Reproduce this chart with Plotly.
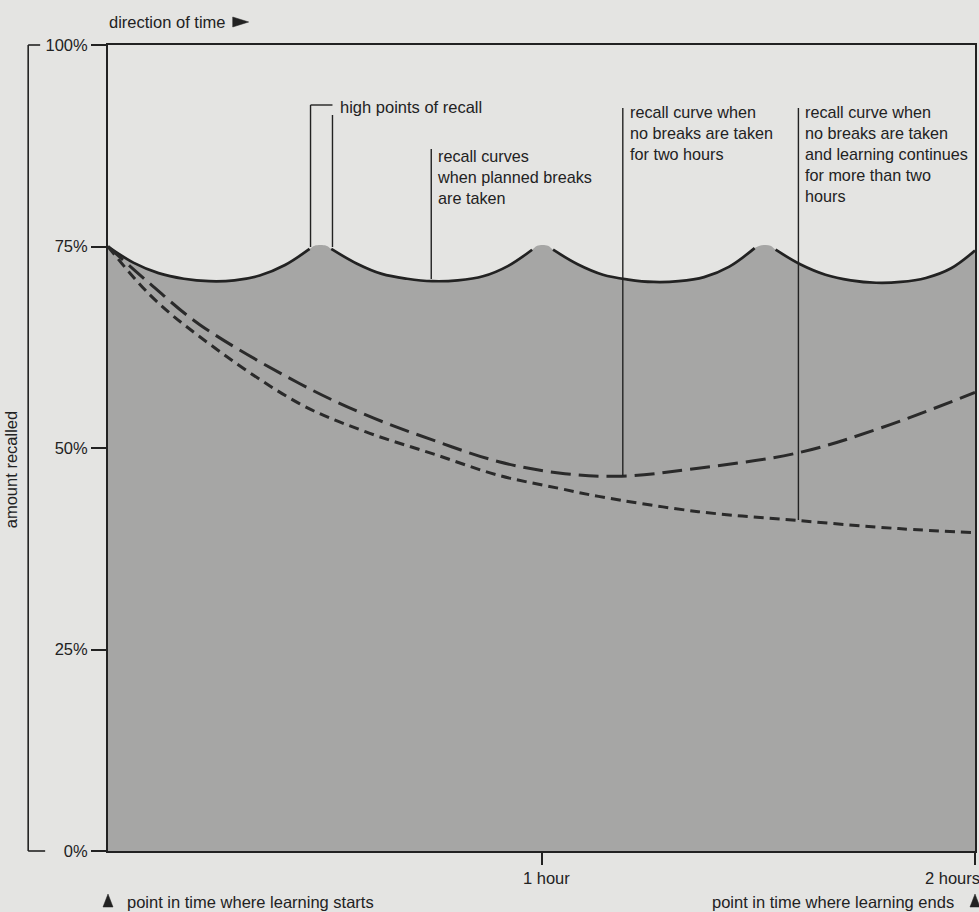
import plotly.graph_objects as go

# ---------------- data (minutes, percent recalled) ----------------
seg1_t = [0, 3.5, 7, 10.5, 14, 17.5, 21, 24.5, 27.9]
seg1_v = [75.0, 73.0, 71.7, 71.0, 70.7, 70.8, 71.4, 72.7, 74.7]
seg2_t = [30.9, 34.4, 37.9, 41.4, 44.9, 48.4, 51.9, 55.4, 58.7]
seg2_v = [74.7, 72.9, 71.6, 71.0, 70.7, 70.8, 71.3, 72.6, 74.6]
seg3_t = [61.6, 65.0, 68.5, 72.0, 75.5, 79.0, 82.5, 86.0, 89.5]
seg3_v = [74.6, 72.8, 71.5, 70.9, 70.6, 70.7, 71.2, 72.5, 74.8]
seg4_t = [92.4, 95.8, 99.3, 102.8, 106.3, 109.7, 113.2, 116.7, 120.0]
seg4_v = [74.6, 72.8, 71.5, 70.8, 70.5, 70.6, 71.1, 72.3, 74.5]

# high points of recall (flat tops during breaks)
peak_t = [[28.6, 30.2], [59.4, 60.9], [90.2, 91.7]]
peak_v = [[75.1, 75.1], [75.1, 75.1], [75.1, 75.1]]

nobreak_t = [0, 5.8, 12.7, 26.5, 35.7, 44.9, 54.1, 62.4, 71.1, 81.7, 95.5, 107.0, 120.0]
nobreak_v = [75.0, 70.4, 65.3, 58.0, 54.1, 51.0, 48.3, 46.9, 46.5, 47.5, 49.4, 52.5, 56.9]

cont_t = [0, 5.8, 12.7, 26.5, 35.7, 44.9, 54.1, 62.4, 67.9, 81.7, 95.5, 109.4, 120.0]
cont_v = [75.0, 69.0, 63.8, 55.5, 52.0, 49.3, 46.6, 45.0, 44.0, 42.1, 41.0, 40.0, 39.5]

y_ticks = [0, 25, 50, 75, 100]
y_labels = ["0%", "25%", "50%", "75%", "100%"]
x_ticks = [60, 120]
x_labels = ["1 hour", "2 hours"]

# ---------------- style ----------------
BG = "#e4e4e2"
FILL = "#a6a6a5"
INK = "#222222"
FONT = "Liberation Sans, Arial, sans-serif"
FS = 16.5
W, H = 979, 912
L, R, T, B = 108, 977, 45, 851


def xp(px):  # pixel -> paper x
    return (px - L) / (R - L)


def yp(py):  # pixel -> paper y
    return (B - py) / (B - T)


def dx(px):  # pixel -> data x (minutes)
    return (px - L) / (R - L) * 120


def dy(py):  # pixel -> data y (%)
    return (B - py) / (B - T) * 100


fig = go.Figure()

# one continuous filled area under the planned-break curve
segs = [(seg1_t, seg1_v), (seg2_t, seg2_v), (seg3_t, seg3_v), (seg4_t, seg4_v)]
area_t, area_v = [], []
for i, (st, sv) in enumerate(segs):
    area_t += st
    area_v += sv
    if i < len(peak_t):
        area_t += peak_t[i]
        area_v += peak_v[i]
fig.add_trace(go.Scatter(x=area_t, y=area_v, mode="lines", fill="tozeroy",
                         fillcolor=FILL, line=dict(width=0, color=FILL, shape="spline"),
                         hoverinfo="skip", showlegend=False))

for st, sv in segs:
    fig.add_trace(go.Scatter(x=st, y=sv, mode="lines",
                             line=dict(color=INK, width=2.7, shape="spline"),
                             showlegend=False))

fig.add_trace(go.Scatter(x=nobreak_t, y=nobreak_v, mode="lines",
                         line=dict(color="#2a2a2a", width=3, shape="spline",
                                   dash="20px,8px"), showlegend=False))
fig.add_trace(go.Scatter(x=cont_t, y=cont_v, mode="lines",
                         line=dict(color="#2a2a2a", width=3, shape="spline",
                                   dash="10px,6px"), showlegend=False))

shapes = []
lw = 1.4


def vline(px, py0, py1):
    shapes.append(dict(type="line", xref="x", yref="y", x0=dx(px), x1=dx(px),
                       y0=dy(py0), y1=dy(py1), line=dict(color=INK, width=lw),
                       layer="above"))


# leader lines
vline(311, 105, 247)
vline(333, 115, 247)
shapes.append(dict(type="line", xref="x", yref="y", x0=dx(311), x1=dx(333),
                   y0=dy(105), y1=dy(105), line=dict(color=INK, width=lw)))
vline(432, 149, 279)
vline(624, 108, 476)
vline(800, 108, 520)

# left bracket
shapes.append(dict(type="line", xref="paper", yref="paper", x0=xp(28), x1=xp(28),
                   y0=0, y1=1, line=dict(color=INK, width=1.6)))
shapes.append(dict(type="line", xref="paper", yref="paper", x0=xp(28), x1=xp(40),
                   y0=1, y1=1, line=dict(color=INK, width=1.6)))
shapes.append(dict(type="line", xref="paper", yref="paper", x0=xp(28), x1=xp(45),
                   y0=0, y1=0, line=dict(color=INK, width=1.6)))


def tri(pts):
    path = "M " + " L ".join(f"{xp(a):.5f},{yp(b):.5f}" for a, b in pts) + " Z"
    shapes.append(dict(type="path", xref="paper", yref="paper", path=path,
                       fillcolor=INK, line=dict(color=INK, width=0.5)))


tri([(233, 17), (249, 22), (233, 27)])
tri([(108, 894), (103, 907), (113, 907)])
tri([(977, 894), (972, 907), (982, 907)])

ann = []


def text(s, px, py, anchor="left", size=FS, yanchor="middle"):
    ann.append(dict(text=s, xref="paper", yref="paper", x=xp(px), y=yp(py),
                    xanchor=anchor, yanchor=yanchor, showarrow=False, align="left",
                    font=dict(family=FONT, size=size, color=INK)))


BS = 16.2  # label block font size
text("direction of time", 107, 22)
text("high points of recall", 339, 107)
text("recall curves<br>when planned breaks<br>are taken", 436, 145, size=BS, yanchor="top")
text("recall curve when<br>no breaks are taken<br>for two hours", 629, 101, size=BS, yanchor="top")
text("recall curve when<br>no breaks are taken<br>and learning continues<br>for more than two<br>hours",
     805, 101, size=BS, yanchor="top")
text("point in time where learning starts", 125, 902)
text("point in time where learning ends", 958, 902, anchor="right")
# x tick labels
text(x_labels[0], 548, 878, anchor="center")
text(x_labels[1], 984, 878, anchor="right")

ann.append(dict(text="amount recalled", xref="paper", yref="paper", x=xp(11), y=yp(470),
                xanchor="center", yanchor="middle", textangle=-90, showarrow=False,
                font=dict(family=FONT, size=FS, color=INK)))

fig.update_layout(
    width=W, height=H,
    margin=dict(l=L, r=W - R, t=T, b=H - B),
    paper_bgcolor=BG, plot_bgcolor=BG,
    shapes=shapes, annotations=ann,
    showlegend=False,
    font=dict(family=FONT, size=FS, color=INK),
)
fig.update_xaxes(range=[0, 120], showgrid=False, zeroline=False,
                 showline=True, mirror=True, linecolor=INK, linewidth=2,
                 tickvals=x_ticks, ticktext=["", ""], ticks="outside",
                 ticklen=12, tickwidth=1.6, tickcolor=INK)
fig.update_yaxes(range=[0, 100], showgrid=False, zeroline=False,
                 showline=True, mirror=True, linecolor=INK, linewidth=2,
                 tickvals=y_ticks, ticktext=y_labels, ticks="outside",
                 ticklen=15, tickwidth=1.6, tickcolor=INK,
                 tickfont=dict(family=FONT, size=FS, color=INK))

fig.write_html("out.html")
